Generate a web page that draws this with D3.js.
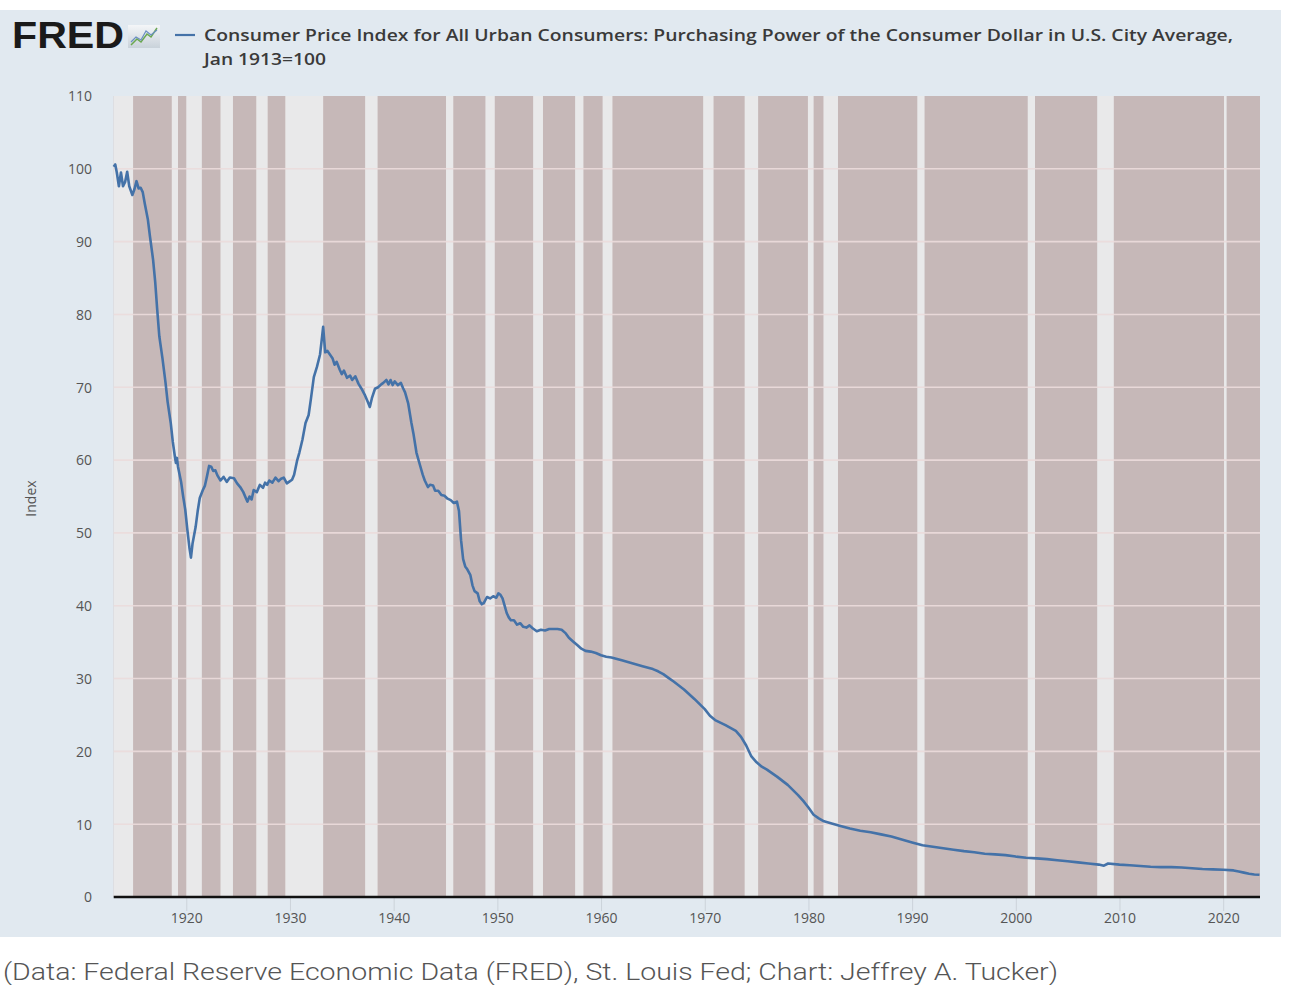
<!DOCTYPE html>
<html>
<head>
<meta charset="utf-8">
<script src="https://cdn.jsdelivr.net/npm/d3@7"></script>
<style>
  html, body { margin: 0; padding: 0; background: #ffffff; }
  svg { display: block; }
</style>
</head>
<body>
<script>
// ---------------- data ----------------
const titleLine1 = "Consumer Price Index for All Urban Consumers: Purchasing Power of the Consumer Dollar in U.S. City Average,";
const titleLine2 = "Jan 1913=100";
const yAxisLabel = "Index";
const caption = "(Data: Federal Reserve Economic Data (FRED), St. Louis Fed; Chart: Jeffrey A. Tucker)";

const xTicks = [1920, 1930, 1940, 1950, 1960, 1970, 1980, 1990, 2000, 2010, 2020];
const yTicks = [0, 10, 20, 30, 40, 50, 60, 70, 80, 90, 100, 110];

// recession periods (light bands), decimal years
const recStart = [1913.0, 1918.6, 1920.0, 1923.3, 1926.75, 1929.55, 1937.25, 1945.05, 1948.85, 1953.45, 1957.5, 1960.15, 1969.85, 1973.85, 1979.95, 1981.45, 1990.5, 2001.15, 2007.85, 2020.08];
const recEnd   = [1914.87, 1919.2, 1921.5, 1924.5, 1927.85, 1933.2, 1938.45, 1945.75, 1949.75, 1954.4, 1958.3, 1961.1, 1970.85, 1975.15, 1980.5, 1982.85, 1991.2, 2001.85, 2009.45, 2020.33];

// purchasing power series (decimal year, index)
const years = [
  1913.0,1913.15,1913.3,1913.5,1913.7,1913.9,1914.1,1914.3,1914.5,1914.8,
  1915.0,1915.2,1915.4,1915.6,1915.8,1916.0,1916.3,1916.5,1916.8,1917.0,
  1917.2,1917.4,1917.5,1917.7,1918.0,1918.2,1918.5,1918.7,1918.9,1919.0,
  1919.1,1919.2,1919.5,1919.7,1919.9,1920.1,1920.3,1920.45,1920.6,1920.9,
  1921.1,1921.3,1921.6,1921.8,1922.0,1922.2,1922.4,1922.6,1922.8,1923.0,
  1923.3,1923.6,1923.9,1924.2,1924.6,1924.9,1925.2,1925.5,1925.8,1925.9,
  1926.1,1926.3,1926.5,1926.8,1927.1,1927.4,1927.6,1927.8,1928.0,1928.3,
  1928.6,1928.9,1929.1,1929.4,1929.7,1929.9,1930.2,1930.4,1930.7,1930.9,
  1931.2,1931.5,1931.8,1932.0,1932.3,1932.6,1932.9,1933.1,1933.2,1933.3,
  1933.4,1933.6,1933.9,1934.1,1934.3,1934.5,1934.8,1935.0,1935.2,1935.5,
  1935.8,1936.0,1936.3,1936.6,1936.9,1937.2,1937.5,1937.7,1937.9,1938.2,
  1938.5,1938.8,1939.0,1939.3,1939.5,1939.7,1939.9,1940.1,1940.4,1940.7,
  1940.9,1941.1,1941.4,1941.7,1941.9,1942.2,1942.5,1942.8,1943.0,1943.3,
  1943.5,1943.8,1944.0,1944.3,1944.6,1944.9,1945.2,1945.5,1945.8,1946.1,
  1946.3,1946.5,1946.7,1946.9,1947.1,1947.4,1947.6,1947.8,1948.1,1948.3,
  1948.5,1948.7,1949.0,1949.3,1949.6,1949.9,1950.1,1950.3,1950.5,1950.7,
  1950.9,1951.1,1951.3,1951.6,1951.9,1952.2,1952.5,1952.8,1953.1,1953.4,
  1953.8,1954.2,1954.6,1955.0,1955.4,1955.8,1956.2,1956.6,1956.9,1957.3,
  1957.7,1958.1,1958.5,1959.0,1959.5,1960.0,1960.5,1961.0,1962.0,1963.0,
  1964.0,1965.0,1965.5,1966.0,1966.5,1967.0,1968.0,1969.0,1970.0,1970.5,
  1971.0,1972.0,1973.0,1973.5,1974.0,1974.5,1975.0,1975.5,1976.0,1977.0,
  1978.0,1979.0,1979.5,1980.0,1980.5,1981.0,1981.5,1982.0,1983.0,1984.0,
  1985.0,1986.0,1987.0,1988.0,1989.0,1990.0,1991.0,1992.0,1993.0,1994.0,
  1995.0,1996.0,1997.0,1998.0,1999.0,2000.0,2001.0,2002.0,2003.0,2004.0,
  2005.0,2006.0,2007.0,2008.0,2008.5,2008.9,2010.0,2011.0,2012.0,2013.0,
  2014.0,2015.0,2016.0,2017.0,2018.0,2019.0,2020.0,2021.0,2021.5,2022.0,
  2022.5,2023.0,2023.5
];
const values = [
  100.3,100.6,99.5,97.6,99.5,97.6,98.2,99.6,97.6,96.4,
  97.2,98.3,97.3,97.4,96.8,95.2,93.0,90.7,87.5,84.5,
  80.6,77.0,76.0,74.0,70.6,68.0,65.1,62.5,60.5,59.6,
  60.3,59.1,57.0,55.0,53.2,50.5,48.0,46.6,48.5,50.8,
  53.0,54.8,55.9,56.5,57.8,59.2,59.1,58.5,58.6,57.9,
  57.2,57.7,57.0,57.6,57.5,56.8,56.3,55.6,54.6,54.3,
  55.0,54.6,55.9,55.6,56.6,56.2,56.9,56.6,57.2,56.9,
  57.6,57.1,57.4,57.6,56.8,57.0,57.3,58.0,60.0,61.0,
  62.8,65.1,66.2,68.2,71.4,72.8,74.5,77.0,78.3,76.5,
  74.8,75.0,74.4,74.0,73.1,73.5,72.4,71.8,72.3,71.3,
  71.6,71.0,71.5,70.5,69.8,69.0,68.0,67.3,68.5,69.8,
  70.0,70.4,70.6,71.0,70.4,71.0,70.3,70.8,70.3,70.6,
  69.9,69.3,67.8,65.2,63.7,61.0,59.5,58.0,57.2,56.3,
  56.6,56.5,55.8,55.8,55.2,55.1,54.7,54.5,54.1,54.3,
  53.0,49.0,46.4,45.4,45.0,44.2,42.8,42.0,41.7,40.6,
  40.2,40.4,41.2,41.0,41.3,41.1,41.7,41.5,41.0,40.0,
  39.0,38.4,38.0,38.0,37.4,37.6,37.1,37.0,37.3,36.9,
  36.5,36.7,36.6,36.8,36.8,36.8,36.7,36.2,35.6,35.1,
  34.6,34.1,33.8,33.7,33.5,33.2,33.0,32.9,32.5,32.1,
  31.7,31.3,31.0,30.6,30.1,29.6,28.5,27.2,25.8,24.9,
  24.3,23.6,22.8,22.0,20.8,19.3,18.5,17.9,17.5,16.5,
  15.4,14.0,13.2,12.3,11.3,10.8,10.4,10.2,9.8,9.4,
  9.1,8.9,8.6,8.3,7.9,7.5,7.1,6.9,6.7,6.5,
  6.3,6.15,5.95,5.85,5.75,5.55,5.4,5.3,5.2,5.05,
  4.9,4.75,4.6,4.45,4.3,4.6,4.45,4.35,4.25,4.15,
  4.1,4.1,4.05,3.95,3.85,3.8,3.75,3.65,3.5,3.35,
  3.2,3.1,3.05
];

// ---------------- layout ----------------
const W = 1289, H = 985;
const plot = { left: 113.7, right: 1260, top: 96, bottom: 897 };

const svg = d3.select("body").append("svg").attr("width", W).attr("height", H);

// outer FRED panel
svg.append("rect").attr("x", 0).attr("y", 10).attr("width", 1281).attr("height", 927).attr("fill", "#e1e9f0");

const x = d3.scaleLinear().domain([1913, 2023.55]).range([plot.left, plot.right]);
const y = d3.scaleLinear().domain([0, 110]).range([plot.bottom, plot.top]);

// plot background (shaded colour), then light recession bands
svg.append("rect")
  .attr("x", plot.left).attr("y", plot.top)
  .attr("width", plot.right - plot.left).attr("height", plot.bottom - plot.top)
  .attr("fill", "#c6b8b8");

const recs = recStart.map((s, i) => ({ s, e: recEnd[i] }));
svg.append("g").selectAll("rect").data(recs).join("rect")
  .attr("x", d => x(d.s))
  .attr("y", plot.top)
  .attr("width", d => Math.max(2, x(d.e) - x(d.s)))
  .attr("height", plot.bottom - plot.top)
  .attr("fill", "#e9e9ea");

// horizontal gridlines
svg.append("g").selectAll("line").data(yTicks.filter(v => v > 0 && v < 110)).join("line")
  .attr("x1", plot.left).attr("x2", plot.right)
  .attr("y1", d => y(d)).attr("y2", d => y(d))
  .attr("stroke", "#ecdcdc").attr("stroke-width", 1.6).attr("opacity", 0.9);

// y axis
const yAxis = d3.axisLeft(y).tickValues(yTicks).tickSize(0).tickPadding(0).tickFormat(d3.format("d"));
const yg = svg.append("g").attr("transform", `translate(92,0)`).call(yAxis);
yg.select(".domain").remove();
yg.selectAll("text")
  .attr("font-family", "'Open Sans', sans-serif").attr("font-size", 14).attr("fill", "#555")
  .attr("dy", "0.35em");

// x axis
const xAxis = d3.axisBottom(x).tickValues(xTicks).tickSize(14).tickPadding(8).tickFormat(d3.format("d"));
const xg = svg.append("g").attr("transform", `translate(0,${plot.bottom})`).call(xAxis);
xg.select(".domain").remove();
xg.selectAll(".tick line").attr("stroke", "#ccd3da").attr("stroke-width", 1);
xg.selectAll("text")
  .attr("font-family", "'Open Sans', sans-serif").attr("font-size", 14).attr("fill", "#555")
  .attr("y", 16).attr("dy", "0.71em");

// baseline
svg.append("line")
  .attr("x1", plot.left).attr("x2", plot.right)
  .attr("y1", y(0)).attr("y2", y(0))
  .attr("stroke", "#111").attr("stroke-width", 2.5);

// data line
const pts = years.map((yr, i) => [yr, values[i]]);
const line = d3.line().x(d => x(d[0])).y(d => y(d[1])).curve(d3.curveLinear);
svg.append("path").datum(pts)
  .attr("d", line)
  .attr("fill", "none")
  .attr("stroke", "#4472a8")
  .attr("stroke-width", 2.6)
  .attr("stroke-linejoin", "round");

// y axis title
svg.append("text")
  .attr("transform", `translate(36,${(plot.top + plot.bottom) / 2 + 2}) rotate(-90)`)
  .attr("text-anchor", "middle")
  .attr("font-family", "'Open Sans', sans-serif").attr("font-size", 14).attr("fill", "#555")
  .text(yAxisLabel);

// FRED logo
svg.append("text")
  .attr("x", 12).attr("y", 48)
  .attr("font-family", "'Liberation Sans', Arial, sans-serif").attr("font-weight", 900)
  .attr("font-size", 37).attr("fill", "#1a1a1a")
  .attr("textLength", 112).attr("lengthAdjust", "spacingAndGlyphs")
  .text("FRED");
const icon = svg.append("g");
const grad = svg.append("defs").append("linearGradient").attr("id", "ig").attr("x1", 0).attr("y1", 0).attr("x2", 0).attr("y2", 1);
grad.append("stop").attr("offset", "0%").attr("stop-color", "#f4f6f8");
grad.append("stop").attr("offset", "100%").attr("stop-color", "#c9d2da");
icon.append("rect").attr("x", 128).attr("y", 25).attr("width", 32).attr("height", 23).attr("fill", "url(#ig)");
icon.append("path").attr("d", "M131,45 L137,39 L141,42 L147,34 L151,37 L157,28").attr("fill", "none").attr("stroke", "#6aa84f").attr("stroke-width", 1.5);
icon.append("path").attr("d", "M131,42 L136,37 L141,40 L146,31 L151,35 L157,30").attr("fill", "none").attr("stroke", "#6b8fc2").attr("stroke-width", 1.2);

// legend swatch + title
svg.append("line").attr("x1", 175).attr("x2", 195).attr("y1", 35).attr("y2", 35)
  .attr("stroke", "#4472a8").attr("stroke-width", 2.2);
svg.append("text")
  .attr("x", 204).attr("y", 41)
  .attr("font-family", "'Open Sans', sans-serif").attr("font-size", 16.5).attr("font-weight", 600).attr("fill", "#3a3a3a")
  .attr("textLength", 1029).attr("lengthAdjust", "spacingAndGlyphs")
  .text(titleLine1);
svg.append("text")
  .attr("x", 204).attr("y", 65)
  .attr("font-family", "'Open Sans', sans-serif").attr("font-size", 16.5).attr("font-weight", 600).attr("fill", "#3a3a3a")
  .attr("textLength", 122).attr("lengthAdjust", "spacingAndGlyphs")
  .text(titleLine2);

// caption
svg.append("text")
  .attr("x", 3).attr("y", 980)
  .attr("font-family", "Roboto, 'Liberation Sans', sans-serif").attr("font-size", 23).attr("font-weight", 300).attr("fill", "#555")
  .attr("textLength", 1055).attr("lengthAdjust", "spacingAndGlyphs")
  .text(caption);
</script>
</body>
</html>
